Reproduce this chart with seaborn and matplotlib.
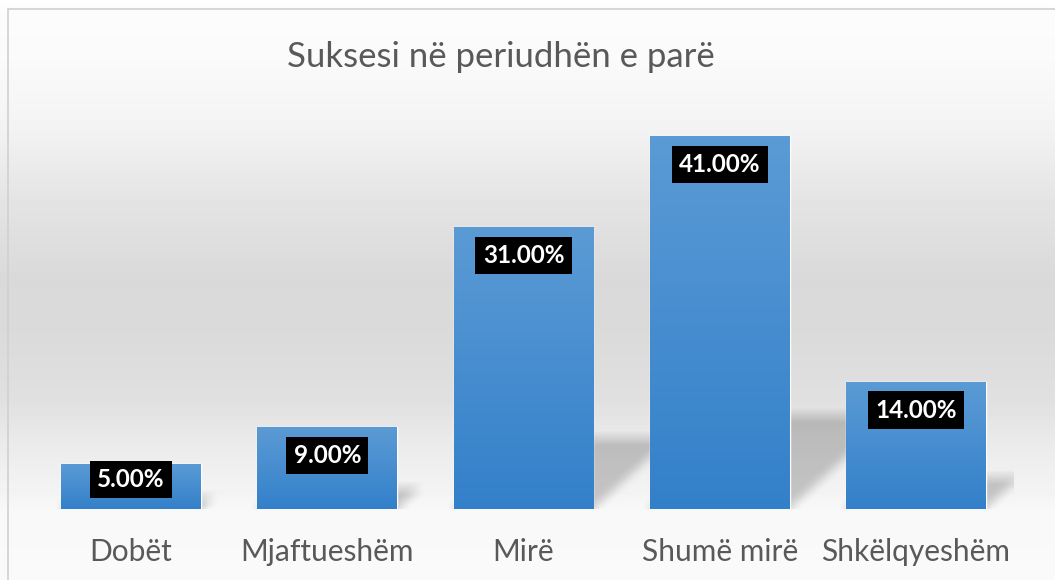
import numpy as np
import matplotlib
matplotlib.use("Agg")
import matplotlib.pyplot as plt
import seaborn as sns
from matplotlib.patches import Rectangle

sns.set_theme(style="white")
plt.rcParams['font.family'] = ['Lato', 'DejaVu Sans']

# data
categories = ['Dobët', 'Mjaftueshëm', 'Mirë', 'Shumë mirë', 'Shkëlqyeshëm']
values = [5.0, 9.0, 31.0, 41.0, 14.0]
title = 'Suksesi në periudhën e parë'

W, H = 1055, 580
fig = plt.figure(figsize=(W / 100, H / 100), dpi=100)

# background gradient (pixel rows from top)
bg = fig.add_axes([0, 0, 1, 1], zorder=0)
rows = np.arange(H)
stops_y = [0, 10, 60, 120, 200, 280, 330, 400, 440, 490, 510, 580]
stops_v = [255, 252, 250, 244, 228, 217, 218, 224, 234, 243, 248, 250]
shade = np.interp(rows, stops_y, stops_v) / 255.0
grad = np.repeat(shade[:, None], 2, axis=1)
bg.imshow(grad, cmap='gray', vmin=0, vmax=1, extent=[0, 1, 0, 1], aspect='auto')
bg.axis('off')
bg.add_patch(Rectangle((8 / W, -0.1), 1.2, (H - 9) / H + 0.1, transform=bg.transAxes,
                       fill=False, ec='#D0D0D0', lw=1.2))
bg.set_xlim(0, 1)
bg.set_ylim(0, 1)

# main chart
ax = fig.add_axes([33 / W, 71 / H, 981 / W, 409.5 / H], zorder=1)
ax.patch.set_alpha(0)
sns.barplot(x=categories, y=values, width=0.713, color='#5B9BD5', saturation=1, ax=ax)
ax.set_xlim(-0.5, 4.5)
ax.set_ylim(0, 45)

# perspective shadows behind the bars
nx, ny = 981, 410
xs = np.linspace(-0.5, 4.5, nx)
ys = np.linspace(0, 45, ny)
X, Y = np.meshgrid(xs, ys)
mask = np.zeros_like(X)
px_x, px_y = 981 / 5.0, 409.5 / 45
for p in ax.patches:
    x0, w, h = p.get_x(), p.get_width(), p.get_height()
    t = 0.25 * h
    k = (px_y / px_x) * 1.1
    inside = (Y <= t) & (X >= x0 + Y * k) & (X <= x0 + w + Y * k)
    mask = np.maximum(mask, inside.astype(float))
r = 7
kern = np.ones(2 * r + 1) / (2 * r + 1)
padded = np.pad(mask, r, mode='edge')
padded = np.apply_along_axis(lambda m: np.convolve(m, kern, mode='same'), 1, padded)
padded = np.apply_along_axis(lambda m: np.convolve(m, kern, mode='same'), 0, padded)
mask = padded[r:-r, r:-r]
shadow = np.zeros((ny, nx, 4))
shadow[..., 3] = mask * 0.2
ax.imshow(shadow, extent=[-0.5, 4.5, 0, 45], origin='lower', aspect='auto', zorder=0.5)

# gradient fill of bars
bar_grad = np.linspace(0, 1, 100)[:, None]
top_c = np.array([91, 155, 213]) / 255
bot_c = np.array([51, 128, 202]) / 255
cols = top_c + (bot_c - top_c) * bar_grad[..., None]
for p in ax.patches:
    p.set_zorder(2)
    x0, w, h = p.get_x(), p.get_width(), p.get_height()
    im = ax.imshow(np.repeat(cols, 2, axis=1), extent=[x0, x0 + w, 0, h],
                   aspect='auto', zorder=2.1)
    im.set_clip_path(p)
ax.set_xlim(-0.5, 4.5)
ax.set_ylim(0, 45)

# value labels
for i, v in enumerate(values):
    ly = max(v - 3.13, 3.25)
    ax.text(i, ly, f'{v:.2f}%', ha='center', va='center', color='white',
            fontsize=17.5, fontweight='bold', zorder=3,
            bbox=dict(boxstyle='square,pad=0.3', fc='black', ec='none'))

ax.set_xlabel('')
ax.set_ylabel('')
ax.set_yticks([])
ax.tick_params(axis='x', length=0, pad=21, labelsize=21.5, labelcolor='#595959')
for s in ax.spines.values():
    s.set_visible(False)

fig.text(501 / W, 1 - 57 / H, title, ha='center', va='center', fontsize=25,
         color='#595959')

fig.savefig('out.png', dpi=100)
